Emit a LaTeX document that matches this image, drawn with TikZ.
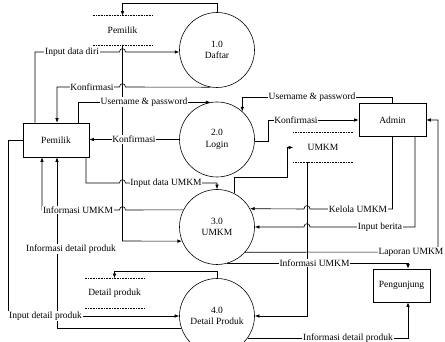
\documentclass[tikz,border=0pt]{standalone}
\usepackage{fontspec}
\setmainfont{Liberation Serif}
\usetikzlibrary{arrows.meta}
\begin{document}
\begin{tikzpicture}[x=1pt,y=-1pt,line width=0.6pt,
  every node/.style={font=\fontsize{9.5}{11.5}\selectfont},
  proc/.style={draw,circle,minimum size=75pt,inner sep=0pt,align=center},
  ent/.style={draw,rectangle,inner sep=0pt},
  store/.style={inner sep=0pt,minimum width=59pt,minimum height=29pt},
  lbl/.style={fill=white,inner sep=0.8pt},
  flow/.style={-{Latex[length=4.5pt,width=3.5pt]}},
  dots/.style={densely dotted}]
\useasboundingbox (0,0) rectangle (445,342);

% processes
\node[proc] (c1) at (217,50) {1.0\\Daftar};
\node[proc] (c2) at (217,139.5) {2.0\\Login};
\node[proc] (c3) at (217,227) {3.0\\UMKM};
\node[proc] (c4) at (217,316) {4.0\\Detail Produk};

% external entities
\node[ent,minimum width=66pt,minimum height=34pt] (pem) at (56,140) {Pemilik};
\node[ent,minimum width=67pt,minimum height=33pt] (adm) at (392.5,120) {Admin};
\node[ent,minimum width=57pt,minimum height=33pt] (peng) at (401.5,285.5) {Pengunjung};

% data stores
\node[store] (ds1) at (122.5,30.5) {Pemilik};
\node[store] (ds2) at (323,147.5) {UMKM};
\node[store] (ds3) at (114.5,293) {Detail produk};
\draw[dots] (ds1.north west) -- (ds1.north east) (ds1.south west) -- (ds1.south east);
\draw[dots] (ds2.north west) -- (ds2.north east) (ds2.south west) -- (ds2.south east);
\draw[dots] (ds3.north west) -- (ds3.north east) (ds3.south west) -- (ds3.south east);

% flows
\draw[flow] (c1.north) -- (217,3) -| (ds1.north);
\draw[flow] ([xshift=-21pt]pem.north) |- (119.5,52) .. controls (119.5,47.5) and (125.5,47.5) .. (125.5,52) -- (c1.183);
\draw[flow] (c1.260) -- (125.5,87) .. controls (125.5,82.5) and (119.5,82.5) .. (119.5,87) -| ([xshift=1pt]pem.north);
\draw[flow] ([xshift=22pt]pem.north) |- (c2.100);
\draw[flow] (adm.north) -- (392.5,97) -| (c2.48);
\draw[flow] (c2.358) -| (268,120) -- (adm.west);
\draw[flow] (c2.west) -- (c2.west -| pem.east);
\draw[flow] ([xshift=30pt]pem.south) -- (86,183) -- (119.5,183) .. controls (119.5,178.5) and (125.5,178.5) .. (125.5,183) -- (217,183) -- (c3.north);
\draw[flow] (c3.153) -- (125.5,210) .. controls (125.5,205.5) and (119.5,205.5) .. (119.5,210) -| ([xshift=-14pt]pem.south);
\draw[flow] (ds1.south) -- (122.5,241) -- (c3.202);
\draw[flow] (c4.199) -| ([xshift=1pt]pem.south);
\draw[flow] (pem.west) -- (8,140) |- (c4.west);
\draw[flow] (c4.north) -- (217,271) -| (ds3.north);
\draw[flow] (c3.63) |- (287,177) |- (ds2.west);
\draw[flow] ([xshift=-16pt]ds2.south) |- (c4.east);
\draw[flow] (adm.south) -- (392.5,209) -- (310,209) .. controls (310,204.5) and (304,204.5) .. (304,209) -- (c3.29);
\draw[flow] ([xshift=22.5pt]adm.south) -- (415,227) -- (310,227) .. controls (310,222.5) and (304,222.5) .. (304,227) -- (c3.east);
\draw[flow] (c3.318) -- (438,252) |- (adm.east);
\draw[flow] (c3.286) -| ([xshift=6.5pt]peng.north);
\draw[flow] (c4.324) -| ([xshift=6.5pt]peng.south);

% labels
\node[lbl] (lA) at (72,52) {Input data diri};
\node[lbl] (lB) at (92,87) {Konfirmasi};
\node[lbl] (lC) at (144,102) {Username \& password};
\node[lbl] (lD) at (312,97) {Username \& password};
\node[lbl] (lE) at (296,120) {Konfirmasi};
\node[lbl] (lF) at (134,139.5) {Konfirmasi};
\node[lbl] (lG) at (166,183) {Input data UMKM};
\node[lbl] (lH) at (78,210) {Informasi UMKM};
\node[lbl] (lJ) at (71,249) {Informasi detail produk};
\node[lbl] (lK) at (45.5,316) {Input detail produk};
\node[lbl] (lO) at (358,209) {Kelola UMKM};
\node[lbl] (lP) at (380,227) {Input berita};
\node[lbl] (lQ) at (411,252) {Laporan UMKM};
\node[lbl] (lR) at (314.5,263) {Informasi UMKM};
\node[lbl] (lS) at (348,338) {Informasi detail produk};
\end{tikzpicture}
\end{document}
